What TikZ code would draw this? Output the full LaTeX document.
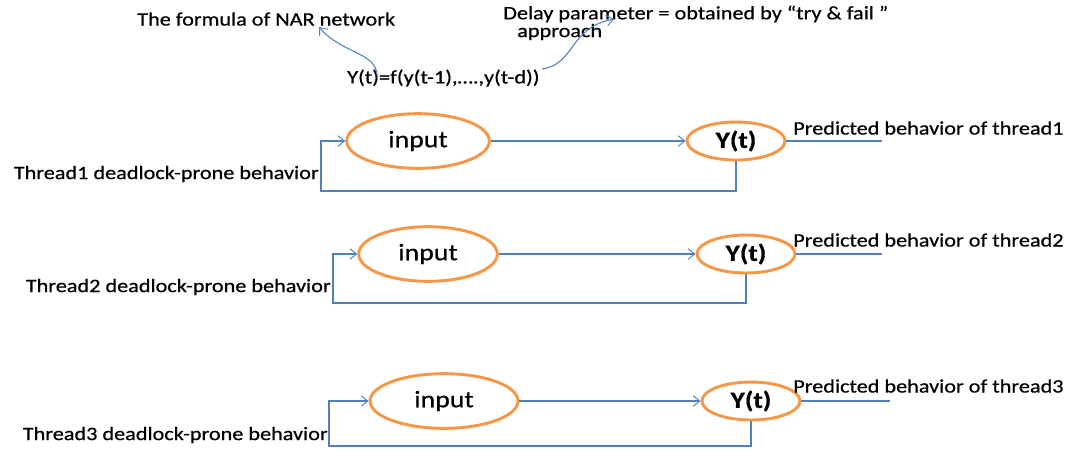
\documentclass[tikz,border=0pt]{standalone}
\usepackage{fontspec}
\setmainfont{Carlito}[FakeStretch=1.17,FakeBold=0.6]
\usetikzlibrary{arrows.meta,shapes.geometric}
\definecolor{lineblue}{RGB}{79,129,189}
\definecolor{ellorange}{RGB}{247,150,70}
\begin{document}
\begin{tikzpicture}[x=0.75pt,y=-0.75pt,
  every node/.style={font=\fontsize{14.25pt}{17pt}\selectfont, inner sep=0pt, text=black},
  inell/.style={ellipse, draw=ellorange, line width=2.2pt, minimum height=41pt,
    font=\fontsize{17.8pt}{20pt}\selectfont},
  yell/.style={ellipse, draw=ellorange, line width=2.2pt, minimum width=73.5pt, minimum height=28.5pt,
    font=\fontsize{17.5pt}{20pt}\selectfont\bfseries},
  conn/.style={draw=lineblue, line width=0.8pt},
  arr/.style={conn, -{Straight Barb[length=5pt,width=8pt,line width=0.7pt]}},
  lbl/.style={anchor=west}]
\useasboundingbox (0,0) rectangle (1069,455);
% top
\node[lbl] (nar) at (137,19) {The formula of NAR network};
\node[lbl] (delay) at (503,14) {Delay parameter = obtained by “try \& fail ”};
\node[lbl] (appr) at (517,32) {approach};
\node[lbl] (form) at (347,78) {Y(t)=f(y(t-1),….,y(t-d))};
\coordinate (c1s) at (377,75);
\coordinate (c1e) at (319,27);
\coordinate (c2s) at (542,69);
\coordinate (c2e) at (614,19);
\draw[arr] (c1s) .. controls (376,52) and (342,54) .. (c1e);
\draw[arr] (c2s) .. controls (576,64) and (568,28) .. (c2e);
% row 1
\node[inell, minimum width=107pt] (in1) at (418,141) {input};
\node[yell] (y1) at (736,141) {Y(t)};
\node[lbl] (p1) at (793,128) {Predicted behavior of thread1};
\node[anchor=east] (t1) at (319,174) {Thread1 deadlock-prone behavior};
\coordinate (o1) at (882,141);
\coordinate (f1) at (321,191);
\draw[arr] (in1.east) -- (y1.west);
\draw[conn] (y1.east) -- (o1);
\draw[arr] (y1.south) |- (f1) |- (in1.west);
% row 2
\node[inell, minimum width=104pt] (in2) at (428,254) {input};
\node[yell] (y2) at (746,254) {Y(t)};
\node[lbl] (p2) at (793,240) {Predicted behavior of thread2};
\node[anchor=east] (t2) at (331,287) {Thread2 deadlock-prone behavior};
\coordinate (o2) at (882,254);
\coordinate (f2) at (333,303);
\draw[arr] (in2.east) -- (y2.west);
\draw[conn] (y2.east) -- (o2);
\draw[arr] (y2.south) |- (f2) |- (in2.west);
% row 3
\node[inell, minimum width=111pt] (in3) at (444,401) {input};
\node[yell] (y3) at (751,401) {Y(t)};
\node[lbl] (p3) at (793,386) {Predicted behavior of thread3};
\node[anchor=east] (t3) at (328,435) {Thread3 deadlock-prone behavior};
\coordinate (o3) at (890,401);
\coordinate (f3) at (329,446);
\draw[arr] (in3.east) -- (y3.west);
\draw[conn] (y3.east) -- (o3);
\draw[arr] (y3.south) |- (f3) |- (in3.west);
\end{tikzpicture}
\end{document}
